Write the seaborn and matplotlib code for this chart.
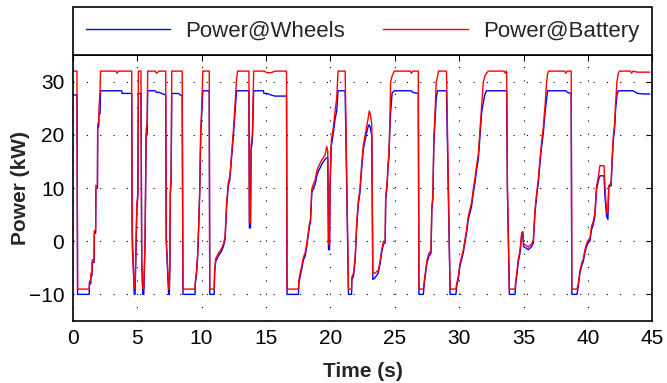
import numpy as np
import pandas as pd
import matplotlib
matplotlib.use("Agg")
import matplotlib.pyplot as plt
import seaborn as sns

# time axis (s), shared by both traces
time_s = [
    0.00, 0.33, 0.38, 1.28, 1.30, 1.40, 1.42, 1.50, 1.52, 1.66, 1.68, 1.78, 1.80, 1.92, 1.94, 2.02, 2.04, 2.12, 2.16,
    3.35, 3.45, 3.55, 3.80, 3.84, 4.58, 4.62, 4.78, 4.84, 4.98, 5.06, 5.10, 5.30, 5.36, 5.44, 5.52, 5.55, 5.62, 5.66, 5.70, 5.78, 5.82,
    6.40, 6.50, 6.70, 7.22, 7.26, 7.45, 7.50, 7.54, 7.58, 7.64, 7.69,
    8.20, 8.50, 8.56, 9.50, 9.52, 9.62, 9.70, 9.78, 9.86, 9.94, 10.00, 10.10, 10.60, 10.64, 10.98, 11.02, 11.10, 11.30, 11.55, 11.70,
    11.83, 11.95, 12.08, 12.20, 12.35, 12.48, 12.60, 12.72, 12.80, 13.68, 13.72, 13.80, 13.85, 13.95, 14.05, 14.80, 14.85,
    15.10, 15.40, 15.70, 16.60, 16.64, 17.53, 17.56, 17.66, 17.78, 17.91, 18.05, 18.17, 18.38, 18.46, 18.56, 18.69, 18.82,
    18.95, 19.08, 19.21, 19.34, 19.59, 19.72, 19.80, 19.86, 19.94, 19.98, 20.08, 20.24, 20.37, 20.50, 20.60, 21.15,
    21.41, 21.65, 21.67, 21.80, 21.93, 22.05, 22.17, 22.30, 22.43, 22.56, 22.69, 22.82, 22.95, 23.02, 23.10, 23.22,
    23.30, 23.46, 23.72, 23.85, 23.98, 24.12, 24.26, 24.30, 24.40, 24.48, 24.55, 24.62, 24.68, 24.80, 24.97,
    26.20, 26.30, 26.40, 26.83, 26.88, 27.22, 27.30, 27.40, 27.50, 27.66, 27.82, 27.88, 27.96, 28.04, 28.12, 28.22, 28.32, 28.40, 29.02, 29.30, 29.75,
    29.81, 29.93, 30.06, 30.19, 30.32, 30.45, 30.58, 30.71, 30.84, 30.97, 31.10, 31.23, 31.36, 31.49, 31.62,
    31.75, 31.88, 32.01, 32.13, 32.26, 33.50, 33.58, 33.69, 33.75, 33.90, 34.34,
    34.40, 34.50, 34.60, 34.73, 34.86, 34.95, 35.00, 35.20, 35.37, 35.63, 35.76, 35.89, 36.02, 36.15, 36.28,
    36.41, 36.54, 36.67, 36.79, 36.87, 36.95, 38.20, 38.28, 38.40, 38.70, 38.75, 39.15,
    39.25, 39.38, 39.51, 39.64, 39.76, 39.89, 40.02, 40.15, 40.28, 40.41, 40.54, 40.67, 40.80, 40.93, 41.25,
    41.32, 41.45, 41.55, 41.62, 41.80, 41.88, 41.98, 42.07, 42.15, 42.25, 42.35, 42.45, 43.30, 43.38, 43.50, 43.85, 44.30, 44.80,
]

# power at the wheels (kW)
power_wheels = [
    27.5, 27.5, -10, -10, -8, -8, -6.5, -6.5, -4, -4, 1.5, 1.5, 10, 10, 21.5, 21.5, 24, 24, 28.3,
    28.3, 28.3, 28.3, 28.3, 27.8, 27.8, 2, -10, -10, 6, 8.5, 27.8, 27.8, -4, -10, -10, -6.5, 0, 10, 20, 20, 28.3,
    28.3, 28.0, 28.0, 27.5, 0, -10, -10, -5, 9, 11, 27.8,
    27.8, 27.3, -10, -10, -8, -6, -3, 2.5, 9, 20, 23, 28.3, 28.3, -10, -10, -6, -3.8, -2.8, -1.9, -1,
    0.3, 6.6, 10.4, 11.6, 16, 20, 24.2, 28.3, 28.3, 28.3, 2.5, 2.5, 17, 19, 28.3, 28.3, 27.8,
    27.8, 27.5, 27.3, 27.3, -10, -10, -7.9, -6.6, -5.3, -3.5, -2.8, -1, 2.8, 3.5, 9.1, 10, 10.7,
    12.3, 13.2, 13.8, 14.5, 15.4, 15.7, 15.7, -1.6, -1.6, 10.4, 18, 20.4, 23, 24.5, 28.3, 28.3,
    -10, -10, -7.2, -6.6, -3.5, 2.8, 6.9, 9.1, 13.5, 17.3, 18.9, 20.4, 21.7, 21.9, 21.4, 19.8,
    -7.2, -6.9, -6, -4.4, -2.2, -0.6, -0.3, 7.9, 10.1, 13.8, 15.7, 21.1, 24.2, 27.9, 28.3,
    28.3, 28.3, 28.0, 27.8, -10, -10, -7.9, -6, -4.1, -2.8, -2.2, 6, 7.9, 18.6, 22.3, 26.7, 28.3, 28.3, 28.3, -10, -10,
    -8.5, -7.2, -4.7, -3.5, -2.2, -0.3, 1.6, 4.1, 5.3, 6.6, 9.1, 11, 13.5, 15.4, 19.8,
    24.2, 26.1, 27.7, 28.3, 28.3, 28.3, 28.3, 28.3, 10, -10, -10,
    -7.9, -6, -3.8, -2.2, 1.3, 1.5, -1, -1.3, -1.6, -1, -0.3, 5.3, 8.5, 11, 14.8,
    17.9, 20.4, 24.2, 26.7, 28.3, 28.3, 28.3, 28.3, 28.0, 27.8, -10, -10,
    -8.5, -6, -4.7, -3.8, -2.2, -1, -0.3, 0, 2.2, 3.1, 4.7, 9.7, 11.3, 12.3, 12.3,
    8.5, 4.7, 4.1, 10.4, 10.4, 15.1, 19.2, 21.1, 24.8, 27.4, 28.3, 28.3, 28.3, 28.3, 28.3, 27.8, 27.7, 27.7,
]

# power drawn from the battery (kW)
power_battery = [
    32, 32, -9, -9, -7.5, -7.5, -6, -6, -3.5, -3.5, 2, 2, 10.5, 10.5, 22, 22.5, 25, 28, 32,
    32, 31.6, 32, 32, 32, 32, -1, -9, -9, 7, 9, 32, 32, -4, -9, -9, -6, 0.5, 11, 21, 22, 32,
    32, 31.6, 32, 32, 1, -9, -9, -4.5, 9.5, 12, 32,
    32, 32, -9, -9, -7.5, -5.5, -2.5, 3, 9.5, 21, 24, 32, 32, -9, -9, -5.5, -3.3, -2.3, -1.4, -0.5,
    0.8, 7.2, 11, 12.2, 16.8, 21, 25.5, 30.5, 32, 32, 3.5, 3.5, 18, 20, 32, 32, 32,
    31.7, 31.7, 32, 32, -9, -9, -7.3, -6, -4.7, -3, -2.2, -0.5, 3.3, 4, 9.8, 10.8, 11.5,
    13.2, 14, 14.7, 15.3, 16.2, 17.8, 17.0, -0.6, -0.6, 11, 19, 21.5, 24.5, 27, 32, 32,
    -9, -9, -6.8, -6, -3, 3.3, 7.5, 9.8, 14.3, 18, 19.8, 21.5, 23.3, 24.5, 24, 22,
    -6, -6, -5.5, -4, -1.7, -0.1, 0.2, 8.5, 10.7, 14.5, 16.5, 22, 29.9, 31.1, 32,
    32, 31.6, 32, 32, -9, -9, -7.4, -5.5, -3.6, -2.3, -1.7, 6.5, 8.5, 19.5, 23.5, 29.9, 31, 32, 32, -9, -9,
    -8, -6.7, -4.2, -3, -1.7, 0.2, 2.2, 4.7, 6, 7.3, 9.8, 11.8, 14.3, 16.3, 21,
    25.5, 29.9, 31.1, 31.6, 32, 32, 31.6, 32, 10, -9, -9,
    -7.4, -5.5, -3.3, -1.7, 1.6, 1.8, -0.5, -0.8, -1.1, -0.5, 0.2, 5.8, 9, 11.7, 15.5,
    18.8, 21.5, 25.5, 29.9, 31.5, 32, 32, 31.6, 32, 32, -9, -9,
    -8, -5.5, -4.2, -3.3, -1.7, -0.5, 0.2, 0.5, 2.8, 3.7, 5.3, 10.3, 12, 14.2, 14.2,
    10.4, 5.3, 5.5, 10.4, 11, 15.8, 20, 22, 26, 29.9, 31.5, 32, 32, 31.6, 32, 31.8, 31.8, 31.8,
]

x_ticks = [0, 5, 10, 15, 20, 25, 30, 35, 40, 45]
y_ticks = [-10, 0, 10, 20, 30]


def main():
    df = pd.DataFrame({"t": time_s, "wheels": power_wheels, "battery": power_battery})

    sns.set_style("white")
    plt.rcParams["font.family"] = ["Liberation Sans", "DejaVu Sans"]

    fig = plt.figure(figsize=(6.67, 3.83), dpi=100)
    ax = fig.add_axes([0.109, 0.162, 0.869, 0.694])

    sns.lineplot(data=df, x="t", y="wheels", ax=ax, color="#0000FF", linewidth=1.0,
                 estimator=None, sort=False, label="Power@Wheels")
    sns.lineplot(data=df, x="t", y="battery", ax=ax, color="#FF0000", linewidth=1.0,
                 estimator=None, sort=False, label="Power@Battery")

    ax.set_xlim(0, 45)
    ax.set_ylim(-15, 35)
    ax.set_xticks(x_ticks)
    ax.set_yticks(y_ticks)
    ax.tick_params(direction="in", top=True, right=True, length=4, width=0.8,
                   labelsize=15, colors="black", pad=6)
    ax.grid(True, color="black", linestyle=(0, (1, 11)), linewidth=0.8)
    for sp in ax.spines.values():
        sp.set_color("black")
        sp.set_linewidth(1.2)

    ax.set_xlabel("Time (s)", fontsize=15, weight="bold", labelpad=10)
    ax.set_ylabel("Power (kW)", fontsize=15, weight="bold", labelpad=-1)

    leg = ax.legend(loc="lower left", bbox_to_anchor=(0, 1.0, 1, 0.18), mode="expand",
                    ncol=2, borderaxespad=0, fancybox=False, framealpha=1,
                    edgecolor="black", handlelength=3.8, handletextpad=0.68,
                    fontsize=16, borderpad=0.6)
    leg.get_frame().set_linewidth(1.2)

    fig.savefig("out.png", dpi=100)
    plt.close(fig)


if __name__ == "__main__":
    main()
